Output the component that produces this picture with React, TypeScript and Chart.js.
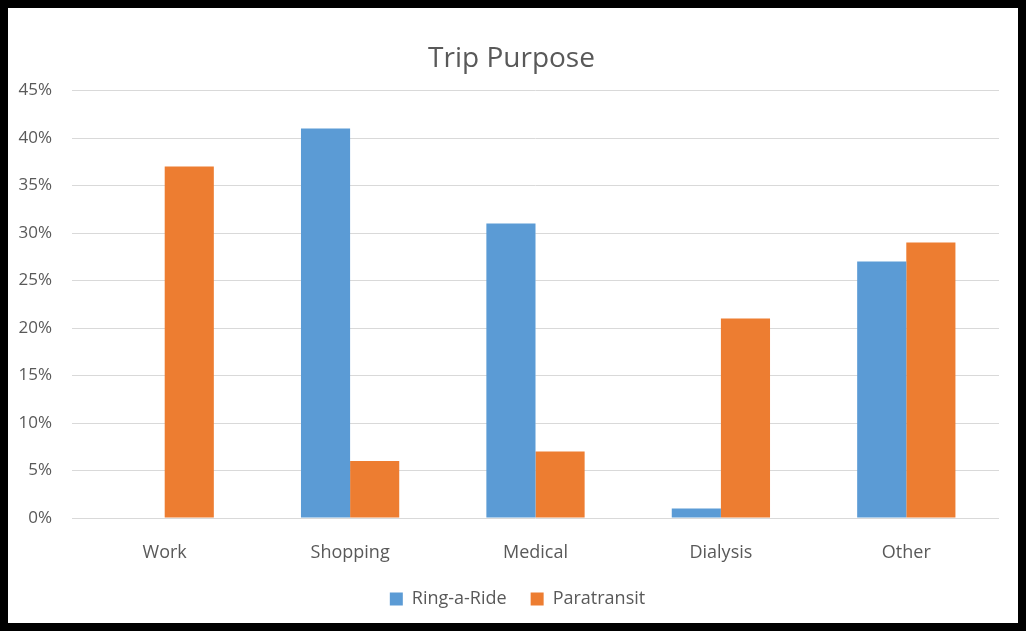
import React, { useEffect, useRef } from "react";
import { Chart, registerables } from "chart.js";

Chart.register(...registerables);

const categories = ["Work", "Shopping", "Medical", "Dialysis", "Other"];
const ringARide = [0, 41, 31, 1, 27];
const paratransit = [37, 6, 7, 21, 29];
const yTicks = [0, 5, 10, 15, 20, 25, 30, 35, 40, 45];

const FONT = "'Open Sans', Lato, sans-serif";
const TEXT = "#595959";

const shiftBlocks = {
  id: "shiftBlocks",
  afterLayout(chart: any) {
    if (chart.legend) {
      chart.legend.left += 14;
      chart.legend.right += 14;
    }
    if (chart.titleBlock) {
      chart.titleBlock.left += 8;
      chart.titleBlock.right += 8;
    }
  },
};

export default function App() {
  const ref = useRef<HTMLCanvasElement | null>(null);

  useEffect(() => {
    if (!ref.current) return;
    const chart = new Chart(ref.current, {
      type: "bar",
      data: {
        labels: categories,
        datasets: [
          {
            label: "Ring-a-Ride",
            data: ringARide,
            backgroundColor: "#5B9BD5",
            barPercentage: 1,
            categoryPercentage: 0.53,
          },
          {
            label: "Paratransit",
            data: paratransit,
            backgroundColor: "#ED7D31",
            barPercentage: 1,
            categoryPercentage: 0.53,
          },
        ],
      },
      options: {
        animation: false,
        responsive: false,
        maintainAspectRatio: false,
        layout: { padding: { left: 0, right: 19, top: 0, bottom: 5 } },
        plugins: {
          title: {
            display: true,
            text: "Trip Purpose",
            color: TEXT,
            font: { family: FONT, size: 28, weight: "normal" },
            padding: { top: 34, bottom: 15 },
          },
          legend: {
            position: "bottom",
            labels: {
              color: TEXT,
              font: { family: FONT, size: 18 },
              boxWidth: 13,
              boxHeight: 13,
              padding: 24,
            },
          },
          tooltip: { enabled: false },
        },
        scales: {
          x: {
            grid: { display: false, drawTicks: false },
            border: { display: false },
            afterFit: (axis: any) => {
              axis.height = 48;
            },
            ticks: {
              color: TEXT,
              font: { family: FONT, size: 18 },
              padding: 24,
            },
          },
          y: {
            min: 0,
            max: 45,
            afterBuildTicks: (axis: any) => {
              axis.ticks = yTicks.map((v) => ({ value: v }));
            },
            afterFit: (axis: any) => {
              axis.width = 64;
            },
            grid: { color: "#D9D9D9", lineWidth: 1, drawTicks: false },
            border: { display: false },
            ticks: {
              color: TEXT,
              font: { family: FONT, size: 17 },
              padding: 20,
              callback: (v: any) => v + "%",
            },
          },
        },
      },
      plugins: [shiftBlocks],
    });
    return () => chart.destroy();
  }, []);

  return (
    <div
      style={{
        position: "absolute",
        left: 0,
        top: 0,
        width: 1026,
        height: 631,
        boxSizing: "border-box",
        border: "8px solid #000",
        background: "#fff",
      }}
    >
      <canvas ref={ref} width={1010} height={615} style={{ display: "block" }} />
    </div>
  );
}
